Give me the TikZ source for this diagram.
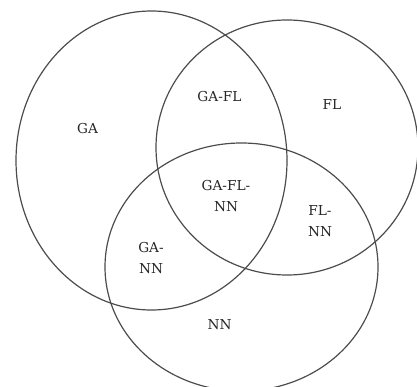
\documentclass[tikz,border=0pt]{standalone}
\usepackage{fontspec}
\setmainfont{DejaVu Serif}
\begin{document}
\begin{tikzpicture}[x=1pt, y=-1pt, font=\fontsize{13.7}{21}\selectfont,
    set/.style={draw=black!70, line width=1.2pt},
    lbl/.style={align=center, inner sep=0pt, text=black!85}]
  \useasboundingbox (0,0) rectangle (417,387);
  % the three sets
  \draw[set] (151.5,160.5) ellipse [x radius=135.5, y radius=149.5];
  \draw[set] (287,147.5) ellipse [x radius=131, y radius=127.5];
  \draw[set] (241.5,267) ellipse [x radius=136.5, y radius=124];
  % regions
  \node[lbl] (ga) at (87.5,128.5) {GA};
  \node[lbl] (gafl) at (219.5,97) {GA-FL};
  \node[lbl] (fl) at (332,105) {FL};
  \node[lbl] (gaflnn) at (226,196) {GA-FL-\\NN};
  \node[lbl] (flnn) at (320,221) {FL-\\NN};
  \node[lbl] (gann) at (151,258) {GA-\\NN};
  \node[lbl] (nn) at (219.5,324.5) {NN};
\end{tikzpicture}
\end{document}
